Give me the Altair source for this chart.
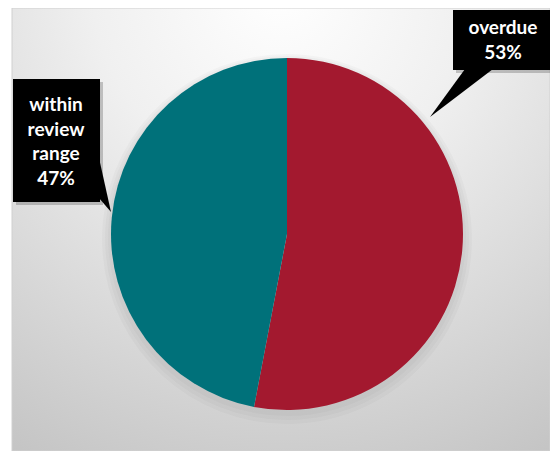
import altair as alt
import pandas as pd

categories = ["overdue", "within review range"]
values = [53, 47]
colors = ["#A3192F", "#00717A"]

df = pd.DataFrame({"category": categories, "value": values, "order": [0, 1]})
df["label"] = [c.replace(" ", "\n") + "\n" + str(v) + "%" for c, v in zip(categories, values)]

W, H = 538, 443
CX, CY, R = 275, 226, 176

base = alt.Chart(df)

bg = alt.Chart(pd.DataFrame({"a": [0]})).mark_rect(
    color=alt.Gradient(
        gradient="radial",
        stops=[alt.GradientStop(offset=0, color="#ffffff"),
               alt.GradientStop(offset=0.35, color="#f0f0f0"),
               alt.GradientStop(offset=1, color="#c4c4c4")],
        x1=0.5, y1=0.05, r1=0, x2=0.5, y2=0.05, r2=1.0),
    stroke="#d0d0d0", strokeWidth=1
).encode(x=alt.value(0), x2=alt.value(W), y=alt.value(0), y2=alt.value(H))

shadows = [
    base.mark_arc(color="#000000", opacity=0.025, outerRadius=R + rr).encode(
        theta=alt.Theta("value:Q", stack=True), order="order:O",
        x=alt.value(CX), y=alt.value(CY + dy))
    for rr, dy in [(9, 5), (6, 4), (3, 3)]
]

pie = base.mark_arc(outerRadius=R, strokeWidth=0).encode(
    theta=alt.Theta("value:Q", stack=True),
    order=alt.Order("order:O"),
    color=alt.Color("category:N", scale=alt.Scale(domain=categories, range=colors), legend=None),
    x=alt.value(CX), y=alt.value(CY),
)

d_over = df[df.category == "overdue"]
d_within = df[df.category == "within review range"]

box_sh1 = alt.Chart(d_over).mark_rect(color="#000000", opacity=0.2).encode(
    x=alt.value(444), x2=alt.value(W), y=alt.value(5), y2=alt.value(65))
box1 = alt.Chart(d_over).mark_rect(color="#000000").encode(
    x=alt.value(441), x2=alt.value(W), y=alt.value(2), y2=alt.value(62))
ptr1 = alt.Chart(d_over).mark_point(
    shape="M0,0 L35,-48 L63,-48 Z", size=4, filled=True, color="#000000", opacity=1, strokeWidth=0
).encode(x=alt.value(418), y=alt.value(109))
txt1 = alt.Chart(d_over).mark_text(
    font="Lato", fontWeight="bold", fontSize=19, color="#ffffff", lineHeight=25,
    lineBreak="\n", align="center", baseline="middle"
).encode(text="label:N", x=alt.value(491), y=alt.value(20))

box_sh2 = alt.Chart(d_within).mark_rect(color="#000000", opacity=0.2).encode(
    x=alt.value(4), x2=alt.value(91), y=alt.value(74), y2=alt.value(197))
box2 = alt.Chart(d_within).mark_rect(color="#000000").encode(
    x=alt.value(1), x2=alt.value(88), y=alt.value(71), y2=alt.value(194))
ptr2 = alt.Chart(d_within).mark_point(
    shape="M0,0 L-12,-54 L-12,-14 Z", size=4, filled=True, color="#000000", opacity=1, strokeWidth=0
).encode(x=alt.value(99), y=alt.value(204))
txt2 = alt.Chart(d_within).mark_text(
    font="Lato", fontWeight="bold", fontSize=19, color="#ffffff", lineHeight=24.5,
    lineBreak="\n", align="center", baseline="middle"
).encode(text="label:N", x=alt.value(44), y=alt.value(97))

chart = alt.layer(bg, *shadows, pie, box_sh1, ptr1, box1, txt1, box_sh2, ptr2, box2, txt2).properties(
    width=W, height=H,
    autosize=alt.AutoSizeParams(type="none"),
    padding={"left": 4, "top": 0, "right": 0, "bottom": 0},
).configure_view(stroke=None)

chart.save("out.html", embed_options={"renderer": "svg", "actions": False})
